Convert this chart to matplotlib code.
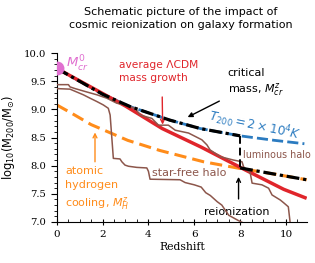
import matplotlib
matplotlib.use("Agg")
import matplotlib.pyplot as plt

# ---------------- data ----------------
red_z = [0, 3.0, 4.6, 6.3, 8.15, 9.9, 10.9]
red_m = [9.73, 9.06, 8.66, 8.33, 7.94, 7.58, 7.42]

crit_z = [0, 1.0, 2.0, 3.2, 4.93, 6.26, 8.0]
crit_m = [9.73, 9.50, 9.27, 9.05, 8.81, 8.66, 8.53]

blue_z = [0, 1.0, 2.0, 3.2, 4.93, 6.26, 8.0, 9.5, 10.8]
blue_m = [9.73, 9.50, 9.27, 9.05, 8.81, 8.66, 8.53, 8.45, 8.39]

orange_z = [0, 0.66, 1.5, 3.1, 4.5, 6.4, 8.0, 9.5, 10.9]
orange_m = [9.08, 8.93, 8.73, 8.45, 8.27, 8.07, 7.95, 7.85, 7.75]

reion_z = [8.0, 9.5, 10.9]
reion_m = [7.96, 7.85, 7.75]
reion_jump = [8.53, 7.96]

lum_z = [0, 0.51, 0.58, 0.8, 1.31, 1.75, 2.18, 2.62, 3.0, 3.42, 3.64, 4.15, 4.44,
         4.87, 5.17, 5.75, 6.04, 6.33, 6.55, 6.69, 7.13, 7.71, 8.08, 8.15, 8.44,
         8.52, 8.95, 9.24, 9.39, 9.75, 9.9, 10.1, 10.19]
lum_m = [9.44, 9.44, 9.40, 9.37, 9.31, 9.26, 9.20, 9.11, 9.08, 9.02, 8.90, 8.84, 8.72,
         8.72, 8.63, 8.58, 8.52, 8.46, 8.37, 8.28, 8.16, 8.10, 8.07, 7.98, 7.87,
         7.69, 7.66, 7.60, 7.48, 7.39, 7.34, 7.27, 6.95]

free_z = [0, 0.58, 0.87, 1.16, 1.45, 1.75, 2.03, 2.25, 2.33, 2.47, 2.76, 2.84, 2.98,
          3.13, 3.49, 3.93, 4.0, 4.07, 5.38, 5.6, 6.0, 6.3, 6.5, 6.7, 7.0, 7.2,
          7.5, 7.9, 8.3]
free_m = [9.37, 9.36, 9.31, 9.26, 9.20, 9.14, 9.08, 9.02, 8.90, 8.13, 8.12, 8.07, 8.01,
          7.99, 7.97, 7.96, 7.90, 7.76, 7.75, 7.70, 7.66, 7.62, 7.52, 7.47, 7.36, 7.30,
          7.12, 7.03, 6.95]

mcr0_z, mcr0_m = 0.0, 9.73
xticks = [0, 2, 4, 6, 8, 10]
yticks = [7.0, 7.5, 8.0, 8.5, 9.0, 9.5, 10.0]

RED = '#e0252b'
BLUE = '#2b7bc0'
ORANGE = '#ff8c1a'
BROWN = '#8c564b'
PINK = '#e070d0'
SANS = 'DejaVu Sans'

plt.rcParams['mathtext.fontset'] = 'dejavusans'

fig = plt.figure(figsize=(3.15, 2.63), dpi=100)
ax = fig.add_axes([0.18, 0.156, 0.795, 0.642])

ax.plot(blue_z, blue_m, color=BLUE, lw=2.0, ls=(0, (4, 1.5)), zorder=2)
ax.plot(orange_z, orange_m, color=ORANGE, lw=2.2, ls=(0, (4, 2)), zorder=2)
ax.plot(red_z, red_m, color=RED, lw=2.5, zorder=3, solid_capstyle='butt')
ax.plot(lum_z, lum_m, color=BROWN, lw=1.1, zorder=4)
ax.plot(free_z, free_m, color=BROWN, lw=1.1, zorder=4)
ax.plot(crit_z, crit_m, color='black', lw=2.3, ls=(0, (4, 1.2, 1, 1.2)), zorder=5)
ax.plot(reion_z, reion_m, color='black', lw=2.3, ls=(0, (4, 1.2, 1, 1.2)), zorder=5)
ax.plot([8.0, 8.0], reion_jump, color='black', lw=1.4, ls=(0, (4, 2)), zorder=5)
ax.plot([mcr0_z], [mcr0_m], 'o', color=PINK, ms=10, zorder=6, mec='none')

ax.set_xlim(0, 10.92)
ax.set_ylim(7.0, 10.0)
ax.set_xticks(xticks)
ax.set_yticks(yticks)
ax.set_yticklabels([f'{v:.1f}' for v in yticks])
ax.xaxis.set_minor_locator(matplotlib.ticker.MultipleLocator(0.5))
ax.yaxis.set_minor_locator(matplotlib.ticker.MultipleLocator(0.1))
for s in ['top', 'right']:
    ax.spines[s].set_visible(False)
ax.tick_params(axis='y', which='major', direction='out', length=4, labelsize=7.2, width=0.8)
ax.tick_params(axis='y', which='minor', direction='out', length=2.5, width=0.6)
ax.tick_params(axis='x', which='major', direction='inout', length=5, labelsize=7.5, width=0.8)
ax.tick_params(axis='x', which='minor', direction='in', length=2.5, width=0.6)
for lab in ax.get_xticklabels() + ax.get_yticklabels():
    lab.set_family('DejaVu Serif')

ax.set_xlabel('Redshift', family='DejaVu Serif', fontsize=7.8, labelpad=2)
ax.set_ylabel(r'$\mathrm{log_{10}(M_{200}/M_{\odot})}$', fontsize=8.3, labelpad=5)

fig.text(0.575, 0.975, 'Schematic picture of the impact of\ncosmic reionization on galaxy formation',
         ha='center', va='top', fontsize=8, family=SANS, linespacing=1.45)

# annotations
ax.text(0.4, 9.80, r'$M^0_{cr}$', color=PINK, fontsize=9.5, va='center', ha='left')
ax.text(2.7, 9.87, 'average ΛCDM\nmass growth', color=RED, fontsize=7.7, va='top', ha='left',
        family=SANS, linespacing=1.3)
ax.annotate('', xy=(4.62, 8.68), xytext=(4.6, 9.27),
            arrowprops=dict(arrowstyle='->', color=RED, lw=1.0, mutation_scale=7))
ax.text(7.45, 9.74, 'critical\nmass, $M^z_{cr}$', color='black', fontsize=8, va='top', ha='left',
        family=SANS, linespacing=1.25)
ax.annotate('', xy=(5.6, 8.84), xytext=(7.2, 9.17),
            arrowprops=dict(arrowstyle='-|>', color='black', lw=1.0, mutation_scale=7))
ax.text(8.62, 8.72, r'$T_{200} = 2\times10^4K$', color=BLUE, fontsize=8.7, rotation=-12,
        ha='center', va='center', rotation_mode='anchor')
ax.text(0.36, 8.00, 'atomic\nhydrogen\ncooling, $M^z_H$', color=ORANGE, fontsize=8, va='top',
        ha='left', family=SANS, linespacing=1.5)
ax.annotate('', xy=(1.67, 8.64), xytext=(1.67, 8.02),
            arrowprops=dict(arrowstyle='->', color=ORANGE, lw=1.0, mutation_scale=7))
ax.text(8.13, 8.19, 'luminous halo', color=BROWN, fontsize=6.9, va='center', ha='left', family=SANS)
ax.text(4.15, 7.87, 'star-free halo', color=BROWN, fontsize=8, va='center', ha='left', family=SANS)
ax.text(7.85, 7.18, 'reionization', color='black', fontsize=8, va='center', ha='center', family=SANS)
ax.annotate('', xy=(7.93, 7.85), xytext=(7.93, 7.36),
            arrowprops=dict(arrowstyle='->', color='black', lw=1.0, mutation_scale=7))

fig.savefig('out.png', dpi=100)
